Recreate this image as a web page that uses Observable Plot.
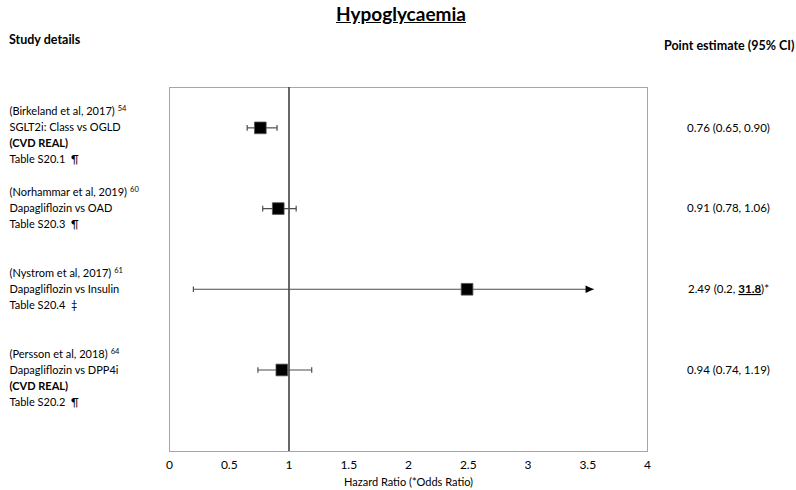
<!DOCTYPE html>
<html>
<head>
<meta charset="utf-8">
<script src="https://cdn.jsdelivr.net/npm/d3@7"></script>
<script src="https://cdn.jsdelivr.net/npm/@observablehq/plot@0.6"></script>
<style>
  body { margin: 0; background: #fff; font-family: Lato, "Noto Sans", sans-serif; color: #000; }
  #wrap { width: 796px; }
  #header { position: relative; width: 796px; height: 60px; }
  #title { position: absolute; left: 0; width: 802px; top: 2px; text-align: center; font-size: 19px; font-weight: bold; text-decoration: underline; }
  #studyHead { position: absolute; left: 9px; top: 32px; font-size: 12.5px; font-weight: bold; }
  #estHead { position: absolute; left: 664px; top: 38px; font-size: 12.5px; font-weight: bold; }
</style>
</head>
<body>
<div id="wrap">
  <div id="header">
    <div id="title"></div>
    <div id="studyHead"></div>
    <div id="estHead"></div>
  </div>
  <div id="chart"></div>
</div>
<script>
// ---- Data ----
const chartTitle = "Hypoglycaemia";
const leftHeader = "Study details";
const rightHeader = "Point estimate (95% CI)";
const xLabel = "Hazard Ratio (*Odds Ratio)";

const studies = ["(Birkeland et al, 2017)", "(Norhammar et al, 2019)", "(Nystrom et al, 2017)", "(Persson et al, 2018)"];
const refs = ["54", "60", "61", "64"];
const comparisons = ["SGLT2i: Class vs OGLD", "Dapagliflozin vs OAD", "Dapagliflozin vs Insulin", "Dapagliflozin vs DPP4i"];
const programmes = ["(CVD REAL)", "", "", "(CVD REAL)"];
const tables = ["Table S20.1  \u00B6", "Table S20.3  \u00B6", "Table S20.4  \u2021", "Table S20.2  \u00B6"];

const estimates = [0.76, 0.91, 2.49, 0.94];
const lowers = [0.65, 0.78, 0.2, 0.74];
const uppers = [0.90, 1.06, 31.8, 1.19];
const estLabels = ["0.76 (0.65, 0.90)", "0.91 (0.78, 1.06)", "2.49 (0.2, 31.8)*", "0.94 (0.74, 1.19)"];
const upperLabels = ["0.90", "1.06", "31.8", "1.19"];

const xTicks = [0, 0.5, 1, 1.5, 2, 2.5, 3, 3.5, 4];
const xMax = 4;
const arrowEnd = 3.55;
const refLine = [1];

// ---- Header ----
document.getElementById("title").textContent = chartTitle;
document.getElementById("studyHead").textContent = leftHeader;
document.getElementById("estHead").textContent = rightHeader;

// ---- Derived tables ----
const rows = studies.map((study, i) => ({
  pos: i + 0.5, study, ref: refs[i],
  est: estimates[i], lo: lowers[i], hi: uppers[i],
  label: estLabels[i], hiLabel: upperLabels[i],
  truncated: uppers[i] > xMax
}));

const lines = rows.flatMap((r, i) => {
  const L = [{text: r.study, bold: false}, {text: comparisons[i], bold: false}];
  if (programmes[i]) L.push({text: programmes[i], bold: true});
  L.push({text: tables[i], bold: false});
  return L.map((l, k) => ({...l, k, pos: r.pos}));
});

const caps = rows.flatMap(r => r.truncated ? [{x: r.lo, pos: r.pos}] : [{x: r.lo, pos: r.pos}, {x: r.hi, pos: r.pos}]);

const capSymbol = { draw(ctx, size) { const h = Math.sqrt(size) / 2; ctx.moveTo(0, -h); ctx.lineTo(0, h); } };
const arrowSymbol = { draw(ctx, size) { const s = Math.sqrt(size); ctx.moveTo(0, 0); ctx.lineTo(-s, -s * 0.45); ctx.lineTo(-s, s * 0.45); ctx.closePath(); } };

const fontFamily = "Lato, 'Noto Sans', sans-serif";
const textMarks = [];
for (let k = 0; k < 4; k++) {
  for (const bold of [false, true]) {
    const subset = lines.filter(d => d.k === k && d.bold === bold);
    if (!subset.length) continue;
    textMarks.push(Plot.text(subset, {
      y: "pos", text: "text", frameAnchor: "left", dx: -160, dy: -16 + 16 * k,
      textAnchor: "start", fontSize: 11, fontWeight: bold ? "bold" : "normal", fill: "#000",
      className: k === 0 ? "study-line" : undefined
    }));
  }
}

const chart = Plot.plot({
  width: 796,
  height: 430,
  marginLeft: 169,
  marginRight: 149,
  marginTop: 27,
  marginBottom: 39,
  style: { fontFamily, fontSize: "12px", color: "#000", background: "#fff" },
  x: { domain: [0, xMax], ticks: xTicks, tickFormat: d => String(d), tickSize: 0, tickPadding: 9, label: null },
  y: { domain: [0, 4.51], reverse: true, axis: null },
  marks: [
    Plot.frame({ stroke: "#a6a6a6", strokeWidth: 1 }),
    Plot.ruleX(refLine, { stroke: "#404040", strokeWidth: 1.6 }),
    Plot.link(rows, { x1: "lo", x2: d => d.truncated ? arrowEnd : d.hi, y1: "pos", y2: "pos", stroke: "#4d4d4d", strokeWidth: 1.2 }),
    Plot.dot(caps, { x: "x", y: "pos", symbol: capSymbol, r: 3.2, stroke: "#4d4d4d", strokeWidth: 1.2, fill: "none" }),
    Plot.dot(rows.filter(d => d.truncated), { x: () => arrowEnd, y: "pos", symbol: arrowSymbol, r: 4.6, fill: "#000", stroke: "none" }),
    Plot.dot(rows, { x: "est", y: "pos", symbol: "square", r: 6.6, fill: "#000", stroke: "#555", strokeWidth: 0.8 }),
    ...textMarks,
    Plot.text(rows, { y: "pos", text: "label", frameAnchor: "right", dx: 81, textAnchor: "middle", fontSize: 11.5, fill: "#000", className: "est-label" }),
    Plot.text([xLabel], { text: d => d, frameAnchor: "bottom", lineAnchor: "middle", dy: 31, fontSize: 11, fill: "#000" })
  ]
});

document.getElementById("chart").appendChild(chart);

// superscript reference numbers
const svg = d3.select(chart.tagName.toLowerCase() === "svg" ? chart : chart.querySelector("svg"));
svg.selectAll("g.study-line text").each(function(_, i) {
  d3.select(this).append("tspan").attr("dx", 3).attr("dy", -4).attr("font-size", 7.5).text(rows[i].ref);
});
// bold underlined truncated upper bound
svg.selectAll("g.est-label text").each(function(_, i) {
  const r = rows[i];
  if (!r.truncated) return;
  const idx = r.label.indexOf(r.hiLabel);
  const pre = r.label.slice(0, idx), post = r.label.slice(idx + r.hiLabel.length);
  const t = d3.select(this);
  t.text(null);
  t.append("tspan").text(pre);
  t.append("tspan").attr("font-weight", "bold").attr("text-decoration", "underline").text(r.hiLabel);
  t.append("tspan").text(post);
});
</script>
</body>
</html>
